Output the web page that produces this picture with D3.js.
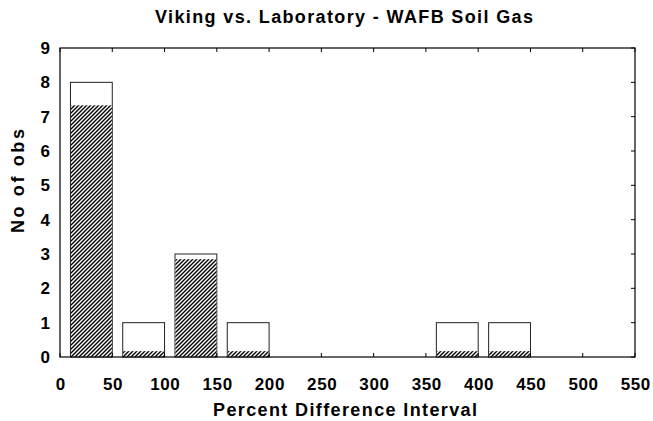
<!DOCTYPE html>
<html>
<head>
<meta charset="utf-8">
<script src="https://cdn.jsdelivr.net/npm/d3@7"></script>
<style>
  html, body { margin: 0; padding: 0; background: #fff; }
  svg { display: block; }
  text { font-family: "Liberation Sans", Arial, sans-serif; font-weight: bold; fill: #000; }
</style>
</head>
<body>
<svg id="chart" width="653" height="421"></svg>
<script>
// Histogram of percent difference, binned in intervals of 50
const binStarts = [0, 50, 100, 150, 200, 250, 300, 350, 400, 450, 500];
const obsCounts = [8, 1, 3, 1, 0, 0, 0, 1, 1, 0, 0];
const shadedCounts = [7.33, 0.17, 2.85, 0.17, 0, 0, 0, 0.17, 0.17, 0, 0];
const xTicks = [0, 50, 100, 150, 200, 250, 300, 350, 400, 450, 500, 550];
const yTicks = [0, 1, 2, 3, 4, 5, 6, 7, 8, 9];

const binWidth = 50;
const barGap = 10; // empty span at the left of each interval

const svg = d3.select("#chart");
const margin = { left: 60, right: 18, top: 48, bottom: 64 };
const W = 653, H = 421;

const x = d3.scaleLinear().domain([0, 550]).range([margin.left, W - margin.right]);
const y = d3.scaleLinear().domain([0, 9]).range([H - margin.bottom, margin.top]);

// diagonal hatch fill
const defs = svg.append("defs");
const pat = defs.append("pattern")
  .attr("id", "hatch")
  .attr("patternUnits", "userSpaceOnUse")
  .attr("width", 4).attr("height", 4);
pat.append("rect").attr("width", 4).attr("height", 4).attr("fill", "#fff");
pat.append("path")
  .attr("d", "M-1,1 l2,-2 M0,4 l4,-4 M3,5 l2,-2")
  .attr("stroke", "#000").attr("stroke-width", 1.4);

const bins = binStarts.map((b, i) => ({ lo: b, n: obsCounts[i], s: shadedCounts[i] }));

// outline bars (observed counts)
svg.append("g").selectAll("rect.outer")
  .data(bins).join("rect")
  .attr("class", "outer")
  .attr("x", d => x(d.lo + barGap))
  .attr("width", d => x(d.lo + binWidth) - x(d.lo + barGap))
  .attr("y", d => y(d.n))
  .attr("height", d => y(0) - y(d.n))
  .attr("fill", "#fff")
  .attr("stroke", "#222")
  .attr("stroke-width", 1);

// hatched portion
svg.append("g").selectAll("rect.inner")
  .data(bins.filter(d => d.s > 0)).join("rect")
  .attr("class", "inner")
  .attr("x", d => x(d.lo + barGap) + 0.5)
  .attr("width", d => x(d.lo + binWidth) - x(d.lo + barGap) - 1)
  .attr("y", d => y(d.s))
  .attr("height", d => y(0) - y(d.s))
  .attr("fill", "url(#hatch)");

// frame
svg.append("rect")
  .attr("x", x(0)).attr("y", y(9))
  .attr("width", x(550) - x(0)).attr("height", y(0) - y(9))
  .attr("fill", "none").attr("stroke", "#000").attr("stroke-width", 1.2);

// axes: labels outside, small ticks pointing into the plot
const tk = 4;
const ls = 0.6;
const xb = d3.axisBottom(x).tickValues(xTicks).tickSize(0).tickPadding(21);
const gxb = svg.append("g").attr("transform", `translate(0,${y(0)})`).call(xb);
gxb.select(".domain").remove();
gxb.selectAll("text")
  .attr("font-size", 17).attr("font-family", "Liberation Sans, Arial").attr("font-weight", "bold")
  .attr("letter-spacing", ls).attr("dx", ls / 2);

const yl = d3.axisLeft(y).tickValues(yTicks).tickSize(0).tickPadding(10);
const gyl = svg.append("g").attr("transform", `translate(${x(0)},0)`).call(yl);
gyl.select(".domain").remove();
gyl.selectAll("text").attr("font-size", 17).attr("font-family", "Liberation Sans, Arial").attr("font-weight", "bold");

const ticks = svg.append("g").attr("stroke", "#000").attr("stroke-width", 1);
xTicks.forEach(v => {
  ticks.append("line").attr("x1", x(v)).attr("x2", x(v)).attr("y1", y(0)).attr("y2", y(0) - tk);
  ticks.append("line").attr("x1", x(v)).attr("x2", x(v)).attr("y1", y(9)).attr("y2", y(9) + tk);
});
yTicks.forEach(v => {
  ticks.append("line").attr("x1", x(550)).attr("x2", x(550) - tk).attr("y1", y(v)).attr("y2", y(v));
});

// titles
svg.append("text")
  .attr("x", 344).attr("y", 23)
  .attr("text-anchor", "middle")
  .attr("font-size", 18)
  .attr("textLength", 378)
  .attr("lengthAdjust", "spacing")
  .text("Viking vs. Laboratory - WAFB Soil Gas");

svg.append("text")
  .attr("x", 345).attr("y", 416)
  .attr("text-anchor", "middle")
  .attr("font-size", 18)
  .attr("textLength", 264)
  .attr("lengthAdjust", "spacing")
  .text("Percent Difference Interval");

svg.append("text")
  .attr("transform", "translate(24,181) rotate(-90)")
  .attr("text-anchor", "middle")
  .attr("font-size", 18)
  .attr("textLength", 104)
  .attr("lengthAdjust", "spacing")
  .text("No of obs");
</script>
</body>
</html>
